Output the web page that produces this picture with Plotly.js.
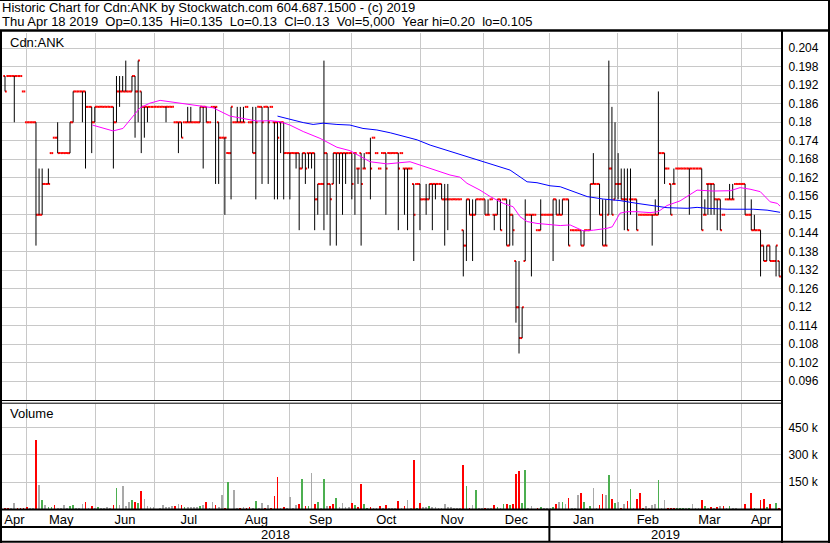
<!DOCTYPE html>
<html><head><meta charset="utf-8">
<script src="https://cdn.plot.ly/plotly-3.0.1.min.js"></script>
<style>html,body{margin:0;padding:0;background:#fff}#chart{width:830px;height:543px}</style>
</head><body><div id="chart"></div>
<script>
// ---------- DATA ----------
// bars are trading days, numbered from the start of the one-year window
const firstBar = 2;
const open = [
.195,.195,.195,.195,.195,.195,.19,.18,.18,.18,
.18,.15,.15,.16,.16,.17,.175,.175,.17,.17,
.17,.17,.18,.19,.19,.19,.19,.185,.185,.18,
.185,.185,.185,.185,.185,.185,.18,.19,.19,.19,
.19,.19,.195,.19,.19,.185,.185,.185,.185,.185,
.185,.185,.185,.185,.185,.18,.18,.18,.18,.18,
.18,.18,.18,.18,.185,.185,.18,.185,.185,.18,
.175,.175,.17,.17,.18,.18,.18,.18,.185,.18,
.18,.17,.185,.185,.185,.185,.185,.18,.18,.18,
.18,.17,.17,.17,.17,.17,.165,.17,.17,.17,
.17,.155,.16,.16,.17,.16,.16,.17,.17,.17,
.17,.17,.17,.17,.165,.17,.165,.17,.17,.175,
.17,.165,.17,.17,.17,.17,.17,.17,.17,.165,
.165,.165,.16,.16,.16,.155,.155,.155,.16,.16,
.16,.16,.155,.155,.155,.155,.155,.155,.145,.14,
.155,.15,.15,.155,.155,.155,.15,.155,.15,.15,
.155,.155,.155,.14,.15,.135,.12,.11,.135,.15,
.15,.15,.145,.145,.15,.15,.15,.15,.155,.15,
.15,.155,.155,.145,.145,.145,.145,.14,.145,.145,
.16,.16,.16,.15,.14,.15,.165,.155,.16,.16,
.155,.155,.155,.155,.155,.15,.15,.15,.15,.15,
.15,.15,.17,.17,.165,.16,.16,.165,.165,.165,
.165,.165,.165,.165,.165,.165,.15,.16,.16,.16,
.155,.155,.15,.155,.155,.155,.16,.16,.16,.16,
.15,.15,.145,.145,.145,.14,.135,.14,.135,.135,.135];
const high = [
.195,.195,.195,.195,.195,.195,.19,.18,.18,.18,
.18,.165,.165,.16,.165,.17,.175,.18,.17,.17,
.17,.18,.19,.19,.19,.19,.19,.185,.185,.185,
.185,.185,.185,.185,.185,.185,.195,.195,.195,.20,
.19,.195,.195,.20,.19,.185,.185,.185,.185,.185,
.185,.185,.185,.185,.185,.18,.18,.18,.18,.185,
.185,.18,.18,.185,.185,.185,.18,.185,.185,.18,
.175,.175,.17,.185,.18,.185,.185,.185,.185,.18,
.185,.185,.185,.185,.185,.185,.185,.18,.18,.18,
.18,.17,.17,.17,.17,.17,.17,.17,.17,.17,
.17,.16,.16,.20,.17,.16,.17,.17,.17,.17,
.17,.17,.17,.17,.165,.17,.17,.17,.175,.175,
.17,.165,.17,.17,.17,.17,.17,.17,.17,.165,
.165,.165,.16,.16,.16,.155,.16,.16,.16,.16,
.16,.16,.16,.16,.155,.155,.155,.155,.145,.155,
.155,.155,.155,.155,.155,.155,.155,.155,.15,.155,
.155,.155,.155,.155,.15,.135,.135,.12,.155,.15,
.15,.15,.145,.155,.15,.15,.15,.155,.155,.155,
.155,.155,.155,.145,.145,.145,.145,.145,.145,.16,
.17,.16,.16,.155,.155,.20,.185,.18,.17,.165,
.165,.165,.165,.155,.155,.15,.15,.15,.15,.15,
.155,.19,.17,.17,.165,.16,.165,.165,.165,.165,
.165,.165,.165,.165,.165,.165,.155,.16,.16,.16,
.155,.155,.15,.155,.16,.16,.16,.16,.16,.16,
.15,.155,.15,.145,.145,.14,.14,.14,.135,.14,.135];
const low = [
.19,.195,.195,.18,.195,.195,.19,.18,.18,.18,
.14,.15,.15,.16,.16,.17,.175,.17,.17,.17,
.17,.17,.18,.19,.19,.18,.165,.185,.17,.18,
.185,.185,.185,.185,.185,.165,.18,.185,.19,.19,
.19,.19,.175,.18,.17,.175,.18,.185,.185,.185,
.185,.185,.18,.185,.185,.18,.17,.175,.18,.18,
.18,.18,.18,.18,.165,.18,.18,.185,.16,.16,
.175,.15,.17,.155,.18,.18,.18,.18,.185,.18,
.17,.155,.185,.16,.185,.16,.185,.155,.155,.17,
.155,.17,.155,.17,.165,.145,.165,.16,.165,.165,
.145,.15,.16,.145,.15,.14,.16,.14,.16,.15,
.16,.17,.155,.15,.16,.14,.165,.17,.155,.175,
.17,.165,.17,.15,.17,.17,.17,.145,.17,.15,
.145,.165,.135,.16,.145,.155,.15,.155,.145,.155,
.16,.155,.14,.145,.155,.155,.155,.155,.13,.135,
.15,.135,.15,.155,.155,.15,.15,.155,.145,.15,
.145,.155,.14,.14,.14,.115,.105,.11,.135,.15,
.13,.15,.145,.145,.15,.15,.15,.135,.15,.15,
.15,.155,.14,.145,.145,.145,.14,.14,.145,.145,
.16,.16,.15,.14,.14,.15,.15,.155,.155,.155,
.145,.145,.15,.155,.145,.15,.15,.15,.15,.14,
.15,.15,.17,.16,.165,.15,.16,.165,.165,.165,
.165,.15,.165,.165,.165,.145,.15,.15,.15,.15,
.145,.145,.15,.155,.155,.155,.16,.16,.16,.15,
.15,.145,.145,.145,.13,.135,.135,.135,.135,.13,.13];
const close = [
.19,.195,.195,.195,.195,.195,.19,.18,.18,.18,
.15,.15,.16,.16,.16,.17,.175,.17,.17,.17,
.17,.18,.19,.19,.19,.19,.185,.185,.18,.185,
.185,.185,.185,.185,.185,.18,.19,.19,.19,.19,
.19,.195,.19,.20,.185,.185,.185,.185,.185,.185,
.185,.185,.185,.185,.185,.18,.18,.175,.18,.18,
.18,.18,.18,.185,.185,.18,.18,.185,.185,.175,
.175,.175,.17,.185,.18,.18,.18,.18,.185,.18,
.17,.18,.185,.18,.185,.18,.185,.18,.175,.18,
.17,.17,.17,.17,.17,.165,.17,.165,.17,.17,
.155,.16,.16,.17,.16,.155,.17,.17,.17,.17,
.17,.17,.16,.17,.165,.16,.165,.17,.165,.175,
.17,.165,.17,.165,.17,.17,.17,.165,.17,.165,
.165,.165,.15,.16,.155,.155,.155,.16,.16,.16,
.16,.155,.155,.155,.155,.155,.155,.155,.14,.155,
.15,.15,.155,.155,.155,.15,.15,.155,.15,.155,
.145,.155,.14,.15,.145,.12,.11,.12,.15,.15,
.15,.15,.145,.15,.15,.15,.15,.155,.15,.15,
.155,.155,.14,.145,.145,.145,.14,.145,.145,.16,
.16,.16,.15,.14,.14,.165,.15,.16,.16,.155,
.155,.145,.155,.155,.145,.15,.15,.15,.15,.15,
.15,.17,.17,.165,.165,.15,.16,.165,.165,.165,
.165,.165,.165,.165,.165,.145,.15,.16,.16,.155,
.155,.145,.15,.155,.155,.155,.16,.16,.16,.15,
.15,.145,.145,.145,.14,.135,.14,.135,.135,.14,.13];
// volume in thousands of shares
const volK = [
9,9,9,37,9,9,9,15,9,9,
382,134,51,24,13,13,24,9,9,24,
9,18,24,9,9,31,42,9,18,9,
13,9,9,13,9,24,119,24,130,18,
42,51,42,37,101,57,18,13,13,0,
9,24,13,13,18,18,29,24,13,13,
13,13,13,18,24,40,9,40,24,13,
79,9,149,0,107,9,9,13,9,13,
9,46,9,33,9,24,9,74,178,9,
13,9,68,9,24,29,167,18,18,200,
29,39,9,167,18,18,29,61,13,35,
13,13,35,24,13,140,31,9,13,9,
9,18,9,24,9,9,9,46,9,18,
51,9,272,9,37,13,13,18,13,13,
9,9,29,13,13,9,9,9,244,129,
9,24,107,9,9,9,9,9,24,13,
9,29,29,24,29,195,211,33,217,9,
18,0,9,15,9,9,9,11,29,40,
40,31,64,9,9,79,92,40,9,18,
119,9,24,85,79,189,57,37,40,9,
31,46,112,9,57,90,9,18,9,24,
31,162,9,51,9,9,9,9,9,9,
9,9,29,9,9,51,18,9,13,9,
13,18,18,9,18,9,9,0,0,29,
0,90,9,0,51,57,15,29,0,35,5];
// change against the previous close as coloured in the volume panel: u up, d down, n unchanged
const volDir = (
"ddnnddddnn"+"dnunuudnnn"+"nuunnndndn"+"unnnndunnn"+"nududnnnnn"+
"nnnnndndun"+"nnnundnndn"+"ndudnndndd"+"nunndndddn"+"dnnnndudun"+
"dununddunn"+"nndudduudn"+"ndndnnndnd"+"nndudnnunn"+"nnnnnnnndu"+
"dnunndnndu"+"nududdduun"+"nndunnnudn"+"undnnndunu"+"nnddnudund"+
"ndundddnnn"+"nunnddduuu"+"nunnndundn"+"dndnunnnnd"+"ndunddudnud").split("");
// moving averages (short = magenta, long = blue), read at bar positions
const maShortX = [30.2,32.7,36.9,40.1,42.4,45.6,48.8,52.1,58.5,65.0,69.2,74.7,80.2,83.4,87.6,90.8,94.0,98.3,103.7,109.2,113.4,116.7,119.9,125.4,132.8,137.0,141.5,145.7,148.9,151.2,155.4,158.7,162.9,166.1,168.3,170.6,173.8,178.0,181.3,184.5,188.7,192.0,196.4,198.1,200.6,202.9,206.1,210.3,212.9,215.8,220.0,225.5,230.7,236.2,239.4,242.6,245.9,249.1,251.4,252.3];
const maShortY = [0.1791,0.1784,0.1772,0.178,0.1807,0.1847,0.1862,0.1871,0.1862,0.1853,0.1847,0.182,0.1811,0.1804,0.1805,0.1802,0.1791,0.177,0.1748,0.1719,0.1708,0.1689,0.1672,0.1665,0.1672,0.1658,0.1643,0.1629,0.1622,0.1602,0.158,0.1559,0.1537,0.1526,0.1494,0.1478,0.1472,0.1469,0.1465,0.1467,0.1448,0.145,0.1456,0.1461,0.1505,0.151,0.151,0.1507,0.151,0.153,0.1545,0.158,0.1577,0.1578,0.1588,0.1583,0.1575,0.1542,0.1537,0.1528];
const maLongX = [90.0,91.8,95.0,98.3,101.5,104.7,109.2,113.4,117.6,122.1,126.4,130.5,135.1,139.3,143.5,148.0,152.2,156.4,160.9,165.1,168.3,170.6,173.8,178.0,181.3,185.5,190.0,195.2,200.6,206.1,211.3,215.8,222.3,225.5,228.8,235.2,243.6,248.1,252.3];
const maLongY = [0.182,0.1815,0.1807,0.1799,0.1793,0.1797,0.1793,0.1791,0.178,0.1775,0.1766,0.1756,0.1743,0.1726,0.1713,0.1699,0.1686,0.1672,0.1658,0.1645,0.1623,0.1607,0.1604,0.1594,0.1591,0.1575,0.1559,0.1551,0.1546,0.1537,0.153,0.1523,0.1521,0.1524,0.1521,0.1518,0.1518,0.1515,0.1508];
// axis ticks
const monthStarts = [9.0,31.3,50.2,72.5,93.8,114.0,136.3,156.5,177.8,199.9,219.3,239.7];
const monthNames = ['Apr','May','Jun','Jul','Aug','Sep','Oct','Nov','Dec','Jan','Feb','Mar','Apr'];
const yearNames = ['2018','2019'];
const yearStartIdx = 8; // Jan is the 9th month boundary
const priceTicks = [0.096,0.102,0.108,0.114,0.12,0.126,0.132,0.138,0.144,0.15,0.156,0.162,0.168,0.174,0.18,0.186,0.192,0.198,0.204];
const priceLabels = ['0.096','0.102','0.108','0.114','0.12','0.126','0.132','0.138','0.144','0.15','0.156','0.162','0.168','0.174','0.18','0.186','0.192','0.198','0.204'];
const volTicks = [150,300,450];
const volLabels = ['150 k','300 k','450 k'];
const header1 = 'Historic Chart for Cdn:ANK by Stockwatch.com 604.687.1500 - (c) 2019';
const header2 = ['Thu Apr 18 2019','Op=0.135','Hi=0.135','Lo=0.13','Cl=0.13','Vol=5,000','Year hi=0.20','lo=0.105'];
const symbolLabel = 'Cdn:ANK';
const volumeLabel = 'Volume';

// ---------- BUILD ----------
const xRange = [1.03, 252.6];
const bar = open.map((_, k) => firstBar + k);
const hlX = [], hlY = [], ocX = [], ocY = [];
const TICK = 0.56; // open/close tick reach in bar units (slight overlap keeps runs continuous)
bar.forEach((b, k) => {
  if (high[k] > low[k]) { hlX.push(b, b, null); hlY.push(low[k], high[k], null); }
  ocX.push(b - TICK, b, null, b, b + TICK, null);
  ocY.push(open[k], open[k], null, close[k], close[k], null);
});
const dirColor = {u:'#4caf50', d:'#ff0000', n:'#a9a9a9'};
const volColors = volDir.map(d => dirColor[d]);

const edges = [xRange[0], ...monthStarts, xRange[1]];
const monthMids = monthNames.map((_, j) => (edges[j] + edges[j+1]) / 2);
const yb = monthStarts[yearStartIdx];
const yearMids = [(xRange[0] + yb) / 2, (yb + xRange[1]) / 2];

// page geometry helpers (pixels -> paper fractions)
const T = 33, B = 510, L = 2, R = 781;
const fy = p => (B - p) / (B - T);
const fx = p => (p - L) / (R - L);
const grid = '#c8c8c8';
const FONT = 'Liberation Sans, Arial, Helvetica, sans-serif';

const traces = [
  {type:'bar', x: bar, y: volK, xaxis:'x2', yaxis:'y2', width:0.55,
   marker:{color: volColors, line:{width:0}}, hoverinfo:'skip'},
  {type:'scatter', mode:'lines', x: ocX, y: ocY, xaxis:'x', yaxis:'y',
   line:{color:'#ff0000', width:2}, hoverinfo:'skip'},
  {type:'scatter', mode:'lines', x: hlX, y: hlY, xaxis:'x', yaxis:'y',
   line:{color:'#000000', width:1}, hoverinfo:'skip'},
  {type:'scatter', mode:'lines', x: maShortX, y: maShortY, xaxis:'x', yaxis:'y',
   line:{color:'#ff00ff', width:1}, hoverinfo:'skip'},
  {type:'scatter', mode:'lines', x: maLongX, y: maLongY, xaxis:'x', yaxis:'y',
   line:{color:'#0000ff', width:1}, hoverinfo:'skip'}
];

const hl = (x0, x1, y, w) => ({type:'line', xref:'paper', yref:'paper', x0, x1, y0:y, y1:y, line:{color:'#000', width:w}});
const vl = (x, y0, y1, w) => ({type:'line', xref:'paper', yref:'paper', x0:x, x1:x, y0, y1, line:{color:'#000', width:w}});

const shapes = [
  hl(fx(0), fx(830), fy(0.5), 1),
  hl(fx(0), fx(830), fy(30.5), 2.4),
  vl(fx(1), fy(30), fy(543), 2),
  vl(fx(782), fy(30), fy(543), 2),
  vl(fx(829), fy(0), fy(543), 2),
  hl(fx(0), fx(782), fy(400.5), 1),
  hl(fx(0), fx(782), fy(403.2), 1),
  hl(fx(0), fx(782), fy(509.5), 2),
  hl(fx(0), fx(782), fy(527), 2),
  hl(fx(0), fx(830), fy(541.8), 2),
  vl((yb - xRange[0]) / (xRange[1] - xRange[0]), fy(510), fy(542), 2)
];

const NB = '\u00a0';
const ann = (text, x, y, xanchor, size, xref) => ({text, x, y, xref: xref || 'paper', yref:'paper',
  xanchor, yanchor:'middle', showarrow:false, font:{family:FONT, size, color:'#000'}, borderpad:0});
const annotations = [
  ann(header1, fx(1), fy(7.5), 'left', 13),
  ann(header2.join(NB + NB), fx(1), fy(21.5), 'left', 13),
  ann(symbolLabel, fx(9), fy(42), 'left', 13),
  ann(volumeLabel, fx(9), fy(413), 'left', 13),
  ann(yearNames[0], yearMids[0], fy(534.5), 'center', 13, 'x'),
  ann(yearNames[1], yearMids[1], fy(534.5), 'center', 13, 'x')
];

const layout = {
  width:830, height:543, margin:{l:L, r:830-R, t:T, b:543-B, pad:0},
  paper_bgcolor:'#ffffff', plot_bgcolor:'#ffffff', showlegend:false,
  font:{family:FONT, size:12, color:'#000'},
  xaxis:{domain:[0,1], anchor:'y', range:xRange, tickmode:'array', tickvals:monthStarts,
    showticklabels:false, ticks:'', showgrid:true, gridcolor:grid, gridwidth:1,
    zeroline:false, showline:false, fixedrange:true},
  yaxis:{domain:[fy(400), 1], anchor:'x', range:[0.08992, 0.20896], side:'right',
    tickmode:'array', tickvals:priceTicks, ticktext:priceLabels, ticks:'outside', ticklen:4,
    tickcolor:'rgba(0,0,0,0)', tickfont:{family:FONT, size:12, color:'#000'},
    showgrid:true, gridcolor:grid, gridwidth:1, zeroline:false, showline:false, fixedrange:true},
  xaxis2:{domain:[0,1], anchor:'y2', matches:'x', range:xRange, tickmode:'array', tickvals:monthMids,
    ticktext:monthNames, ticks:'', ticklen:0, tickfont:{family:FONT, size:13, color:'#000'},
    showgrid:false, zeroline:false, showline:false, fixedrange:true,
    minor:{tickmode:'array', tickvals:monthStarts, showgrid:true, gridcolor:grid, gridwidth:1, ticks:''}},
  yaxis2:{domain:[0, fy(403.7)], anchor:'x2', range:[-4, 582], side:'right',
    tickmode:'array', tickvals:volTicks, ticktext:volLabels, ticks:'outside', ticklen:4,
    tickcolor:'rgba(0,0,0,0)', tickfont:{family:FONT, size:12, color:'#000'},
    showgrid:true, gridcolor:grid, gridwidth:1, zeroline:false, showline:false, fixedrange:true},
  shapes, annotations, bargap:0
};

Plotly.newPlot('chart', traces, layout, {displayModeBar:false, staticPlot:true});
</script>
</body></html>
